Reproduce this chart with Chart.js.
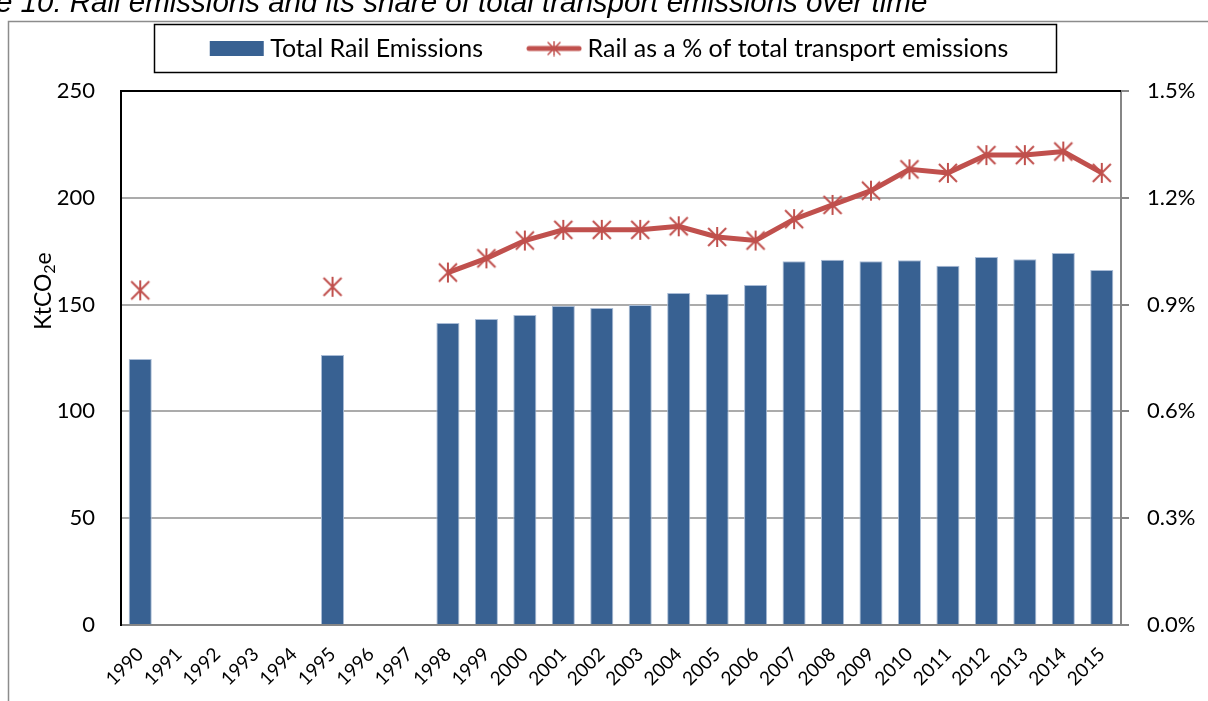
<!DOCTYPE html>
<html>
<head>
<meta charset="utf-8">
<script src="https://cdn.jsdelivr.net/npm/chart.js@4.4.1/dist/chart.umd.min.js"></script>
<style>
  body { margin: 0; background: #fff; overflow: hidden; }
  .wrap { position: relative; width: 1208px; height: 701px; }
  .cap { position: absolute; top: -13px; left: -4px; font: italic 29.5px 'Liberation Sans', Arial, sans-serif; line-height: 29px; white-space: nowrap; color: #000; }
  canvas { position: absolute; left: 0; top: 0; }
</style>
</head>
<body>
<div class="wrap">
  <canvas id="chart" width="1208" height="701"></canvas>
  <div class="cap">e 10: Rail emissions and its share of total transport emissions over time</div>
</div>
<script>
var years = ["1990","1991","1992","1993","1994","1995","1996","1997","1998","1999","2000","2001","2002",
  "2003","2004","2005","2006","2007","2008","2009","2010","2011","2012","2013","2014","2015"];
var railEmissions = [124.5, null, null, null, null, 126.4, null, null, 141.4, 143.3, 145.1, 149.3, 148.4,
  149.8, 155.4, 155.0, 159.2, 170.3, 171.0, 170.3, 170.8, 168.2, 172.3, 171.2, 174.2, 166.2];
var railShare = [0.94, null, null, null, null, 0.95, null, null, 0.99, 1.03, 1.08, 1.11, 1.11,
  1.11, 1.12, 1.09, 1.08, 1.14, 1.18, 1.22, 1.28, 1.27, 1.32, 1.32, 1.33, 1.27];
var leftTicks = [0, 50, 100, 150, 200, 250];
var rightTicks = [0, 0.3, 0.6, 0.9, 1.2, 1.5];

var barColor = "#386192";
var lineColor = "#C0504D";
var fontName = "Lato, 'Liberation Sans', sans-serif";

function asterisk(ctx, cx, cy, r, w) {
  ctx.strokeStyle = lineColor;
  ctx.lineWidth = w;
  ctx.beginPath();
  ctx.moveTo(cx - r, cy - r); ctx.lineTo(cx + r, cy + r);
  ctx.moveTo(cx + r, cy - r); ctx.lineTo(cx - r, cy + r);
  ctx.moveTo(cx, cy - r - 1); ctx.lineTo(cx, cy + r + 1);
  ctx.stroke();
}

var marker = document.createElement("canvas");
marker.width = 22; marker.height = 22;
asterisk(marker.getContext("2d"), 11, 11, 9, 2);

var lineSwatch = document.createElement("canvas");
lineSwatch.width = 56; lineSwatch.height = 16;
(function(){
  var c = lineSwatch.getContext("2d");
  c.strokeStyle = lineColor; c.lineWidth = 5; c.lineCap = "round";
  c.beginPath(); c.moveTo(3, 8); c.lineTo(53, 8); c.stroke();
  asterisk(c, 28, 8, 6, 1.5);
})();

var barSwatch = document.createElement("canvas");
barSwatch.width = 56; barSwatch.height = 15;
(function(){
  var c = barSwatch.getContext("2d");
  c.fillStyle = barColor; c.fillRect(1, 0, 54, 15);
})();

var frame = {
  id: "frame",
  afterInit: function(chart){
    // make room under the legend so the plot starts lower
    var leg = chart.legend;
    var fit = leg.fit;
    leg.fit = function(){
      fit.apply(this, arguments);
      this.height = 105;
    };
  },
  afterDraw: function(chart){
    var ctx = chart.ctx;
    var a = chart.chartArea;
    ctx.save();
    // outer border
    ctx.strokeStyle = "#8C8C8C"; ctx.lineWidth = 1.5;
    ctx.beginPath(); ctx.moveTo(8.5, 701); ctx.lineTo(8.5, 21.5); ctx.lineTo(1208, 21.5); ctx.stroke();
    // top of plot
    ctx.strokeStyle = "#000"; ctx.lineWidth = 2;
    ctx.beginPath(); ctx.moveTo(a.left, a.top); ctx.lineTo(a.right, a.top); ctx.stroke();
    // legend box
    var hb = chart.legend.legendHitBoxes;
    if (hb && hb.length) {
      var l = hb[0].left - 62, r = hb[hb.length-1].left + hb[hb.length-1].width + 47;
      ctx.strokeStyle = "#000"; ctx.lineWidth = 1.5;
      ctx.strokeRect(Math.round(l) + 0.5, 24.5, Math.round(r - l), 48);
    }
    // y title with subscript
    ctx.translate(43, 291);
    ctx.rotate(-Math.PI / 2);
    ctx.fillStyle = "#000";
    ctx.textBaseline = "alphabetic";
    ctx.font = "23px " + fontName;
    var w1 = ctx.measureText("KtCO").width;
    ctx.font = "16px " + fontName;
    var w2 = ctx.measureText("2").width;
    ctx.font = "23px " + fontName;
    var w3 = ctx.measureText("e").width;
    var x0 = -(w1 + w2 + w3) / 2;
    ctx.fillText("KtCO", x0, 8);
    ctx.font = "16px " + fontName;
    ctx.fillText("2", x0 + w1, 12);
    ctx.font = "23px " + fontName;
    ctx.fillText("e", x0 + w1 + w2, 8);
    ctx.restore();
  }
};

new Chart(document.getElementById("chart"), {
  type: "bar",
  data: {
    labels: years,
    datasets: [
      {
        type: "bar",
        label: "Total Rail Emissions",
        data: railEmissions,
        backgroundColor: barColor,
        borderColor: "#A9BCD6",
        borderWidth: 1,
        barPercentage: 0.6,
        categoryPercentage: 1,
        yAxisID: "y",
        order: 1
      },
      {
        type: "line",
        label: "Rail as a % of total transport emissions",
        data: railShare,
        borderColor: lineColor,
        borderWidth: 5,
        pointStyle: marker,
        pointRadius: 10,
        spanGaps: false,
        yAxisID: "y1",
        order: 0
      }
    ]
  },
  options: {
    responsive: false,
    animation: false,
    layout: { padding: { top: -14, left: 16, right: 0, bottom: 0 } },
    plugins: {
      tooltip: { enabled: false },
      legend: {
        position: "top",
        labels: {
          font: { family: fontName, size: 25 },
          color: "#000",
          padding: 50,
          usePointStyle: true,
          pointStyleWidth: 42,
          generateLabels: function(chart){
            return [
              { text: "Total Rail Emissions", pointStyle: barSwatch, datasetIndex: 0, lineWidth: 0, fontColor: "#000" },
              { text: "Rail as a % of total transport emissions", pointStyle: lineSwatch, datasetIndex: 1, lineWidth: 0, fontColor: "#000" }
            ];
          }
        }
      }
    },
    scales: {
      x: {
        grid: { display: false, drawTicks: false },
        border: { color: "#868686", width: 2 },
        ticks: {
          font: { family: fontName, size: 19 },
          color: "#000",
          maxRotation: 45, minRotation: 45,
          autoSkip: false,
          padding: 18
        },
        afterFit: function(s){ s.height = 76; }
      },
      y: {
        position: "left",
        min: 0, max: 250,
        afterBuildTicks: function(s){ s.ticks = leftTicks.map(function(v){ return { value: v }; }); },
        grid: {
          drawTicks: false,
          lineWidth: 2,
          color: function(c){ return (c.tick && (c.tick.value === 0 || c.tick.value === 250)) ? "rgba(0,0,0,0)" : "#ABABAB"; }
        },
        border: { color: "#000", width: 2 },
        ticks: { font: { family: fontName, size: 22 }, color: "#000", padding: 26 },
        afterFit: function(s){ s.width = 105; }
      },
      y1: {
        position: "right",
        min: 0, max: 1.5,
        afterBuildTicks: function(s){ s.ticks = rightTicks.map(function(v){ return { value: v }; }); },
        grid: { drawOnChartArea: false, tickLength: 8, color: "#868686", lineWidth: 2 },
        border: { color: "#868686", width: 2 },
        ticks: {
          font: { family: fontName, size: 22 }, color: "#000", padding: 18,
          callback: function(v){ return v.toFixed(1) + "%"; }
        },
        afterFit: function(s){ s.width = 87; }
      }
    }
  },
  plugins: [frame]
});
</script>
</body>
</html>
